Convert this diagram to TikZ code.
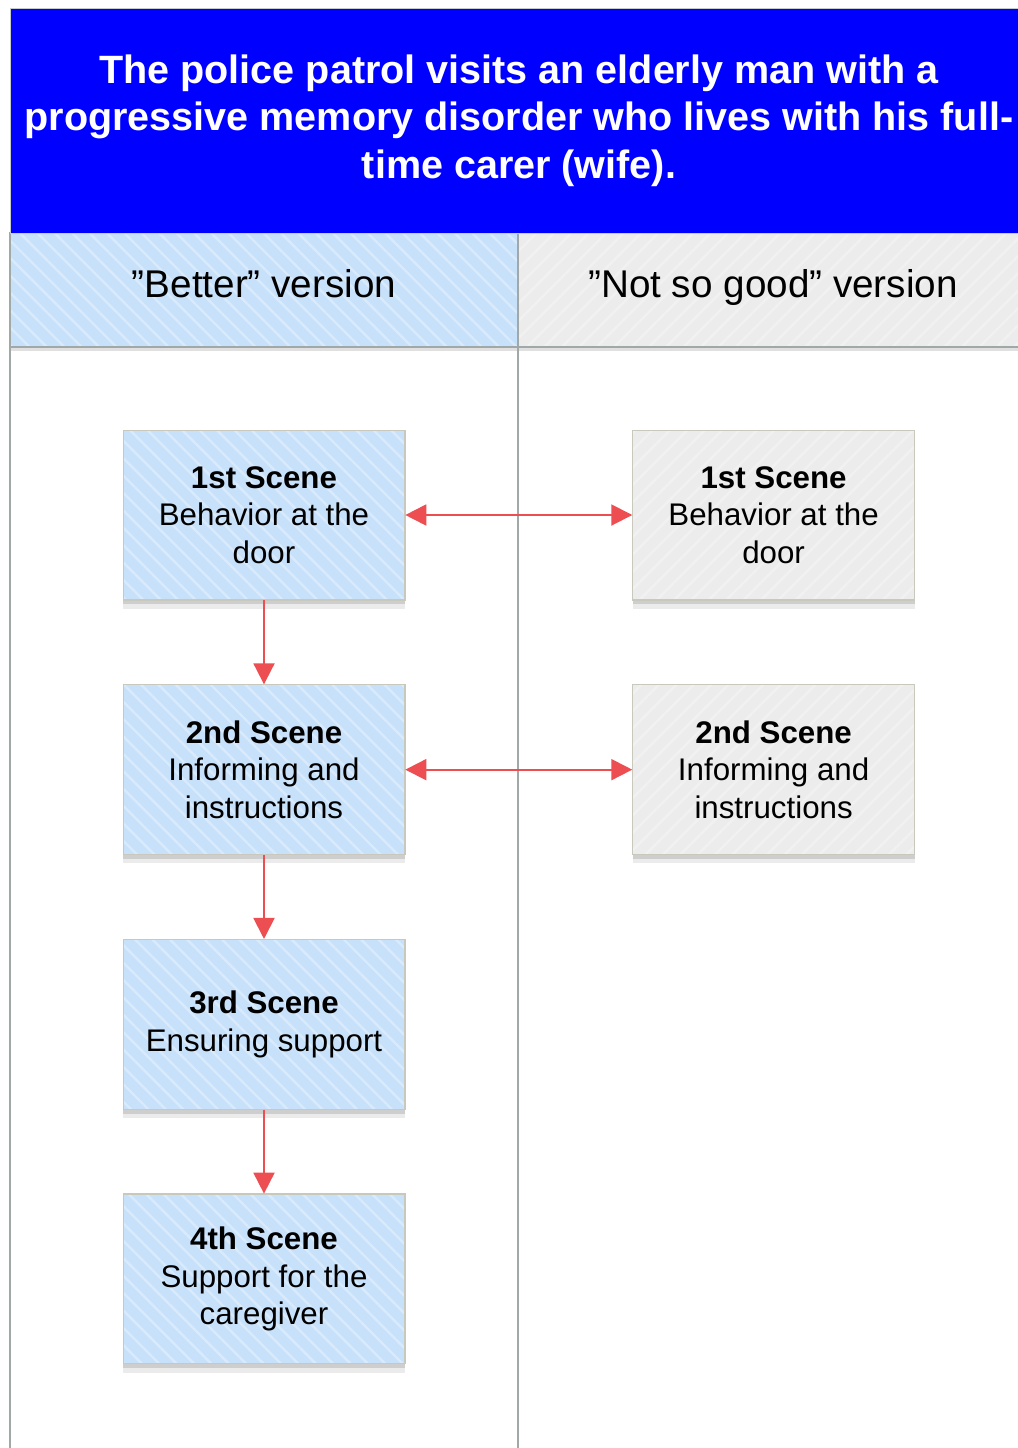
\documentclass[tikz,border=0pt]{standalone}
\usepackage{fontspec}
\setmainfont{Liberation Sans}
\usetikzlibrary{positioning,arrows.meta,shadows,patterns.meta}
\definecolor{TitleBlue}{RGB}{0,0,255}
\definecolor{LaneBlue}{RGB}{199,225,250}
\definecolor{LaneGrey}{RGB}{236,236,236}
\definecolor{LaneEdge}{RGB}{160,168,168}
\definecolor{SceneEdge}{RGB}{200,200,188}
\definecolor{SceneRed}{RGB}{236,78,82}
\tikzset{
  title box/.style={
    draw=LaneEdge!60,
    line width=0.5pt,
    fill=TitleBlue,
    text=white,
    align=center,
    font=\fontsize{22.5}{27}\selectfont\bfseries,
    minimum width=20.36cm,
    minimum height=4.5cm
  },
  lane head/.style={
    align=center,
    font=\fontsize{22}{26}\selectfont,
    text height=1.0em,
    text depth=0.2em,
    minimum height=2.28cm,
    drop shadow={shadow xshift=0pt, shadow yshift=-2pt, opacity=0.12, fill=black}
  },
  lane better/.style={lane head, fill=LaneBlue, minimum width=10.16cm,
    postaction={pattern={Lines[angle=-45,distance=7pt,line width=1.4pt]}, pattern color=white!30!LaneBlue},
    postaction={draw=LaneEdge, line width=0.8pt}},
  lane worse/.style={lane head, fill=LaneGrey, minimum width=10.2cm,
    postaction={pattern={Lines[angle=45,distance=7pt,line width=1.4pt]}, pattern color=white!25!LaneGrey},
    postaction={draw=LaneEdge, line width=0.8pt}},
  lane line/.style={draw=LaneEdge, line width=1.1pt},
  scene box/.style={
    align=center,
    font=\fontsize{17.8}{21.5}\selectfont,
    inner sep=2pt,
    minimum width=5.64cm,
    minimum height=3.4cm,
    drop shadow={shadow xshift=0pt, shadow yshift=-5pt, opacity=0.08, fill=black},
    drop shadow={shadow xshift=0pt, shadow yshift=-2.5pt, opacity=0.12, fill=black}
  },
  scene better/.style={scene box, fill=LaneBlue,
    postaction={pattern={Lines[angle=-45,distance=7pt,line width=1.4pt]}, pattern color=white!30!LaneBlue},
    postaction={draw=SceneEdge, line width=0.6pt}},
  scene worse/.style={scene box, fill=LaneGrey,
    postaction={pattern={Lines[angle=45,distance=7pt,line width=1.4pt]}, pattern color=white!25!LaneGrey},
    postaction={draw=SceneEdge, line width=0.6pt}},
  scene arrow/.style={-{Triangle[length=0.42cm,width=0.42cm]}, line width=1.1pt, SceneRed},
  scene link/.style={{Triangle[length=0.42cm,width=0.42cm]}-{Triangle[length=0.42cm,width=0.42cm]}, line width=1.1pt, SceneRed}
}

\begin{document}
\begin{tikzpicture}[x=0.02cm, y=-0.02cm]
\useasboundingbox (0,0) rectangle (1018,1448);
\clip (0,0) rectangle (1018,1448);
\fill[white] (0,0) rectangle (1018,1448);
\coordinate (bottom) at (0,1460);

% title and lanes
\node[lane better] (hb) at (264,290) {”Better” version};
\node[lane worse] (hw) at (773,290) {”Not so good” version};
\node[title box] (title) at (519,120.5) {The police patrol visits an elderly man with a\\progressive memory disorder who lives with his full-\\time carer (wife).};
\draw[lane line] (hb.south west) -- (hb.south west |- bottom);
\draw[lane line] (hb.south east) -- (hb.south east |- bottom);

% scenes
\node[scene better] (b1) at (264,515) {\textbf{1st Scene}\\Behavior at the\\door};
\node[scene better, below=1.68cm of b1] (b2) {\textbf{2nd Scene}\\Informing and\\instructions};
\node[scene better, below=1.68cm of b2] (b3) {\textbf{3rd Scene}\\Ensuring support};
\node[scene better, below=1.68cm of b3] (b4) {\textbf{4th Scene}\\Support for the\\caregiver};
\node[scene worse, right=4.54cm of b1] (w1) {\textbf{1st Scene}\\Behavior at the\\door};
\node[scene worse, right=4.54cm of b2] (w2) {\textbf{2nd Scene}\\Informing and\\instructions};

\draw[scene arrow] (b1) -- (b2);
\draw[scene arrow] (b2) -- (b3);
\draw[scene arrow] (b3) -- (b4);
\draw[scene link] (b1) -- (w1);
\draw[scene link] (b2) -- (w2);
\end{tikzpicture}
\end{document}
